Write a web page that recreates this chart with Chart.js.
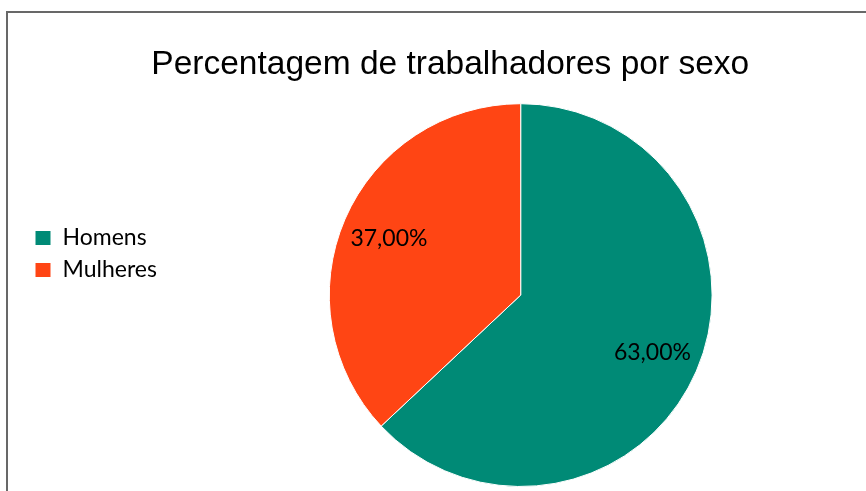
<!DOCTYPE html>
<html>
<head>
<meta charset="utf-8">
<script src="https://cdn.jsdelivr.net/npm/chart.js@4/dist/chart.umd.min.js"></script>
<style>
  html, body { margin: 0; padding: 0; overflow: hidden; background: #ffffff; width: 866px; height: 491px; }
  #frame { position: absolute; left: 6px; top: 11px; width: 900px; height: 600px;
           border-left: 2px solid #686868; border-top: 2px solid #686868; box-sizing: border-box; }
  #wrap { position: absolute; left: 0; top: 0; width: 880px; height: 491px; }
</style>
</head>
<body>
<div id="frame"></div>
<div id="wrap"><canvas id="c"></canvas></div>
<script>
const titleText = 'Percentagem de trabalhadores por sexo';
const categories = ['Homens', 'Mulheres'];
const percentValues = [63.00, 37.00];
const sliceColors = ['#008A76', '#FF4514'];

const dataLabelPlugin = {
  id: 'sliceLabels',
  afterDatasetsDraw(chart) {
    const ctx = chart.ctx;
    const meta = chart.getDatasetMeta(0);
    ctx.save();
    ctx.font = '23px Lato';
    ctx.fillStyle = '#000000';
    ctx.textAlign = 'center';
    ctx.textBaseline = 'middle';
    meta.data.forEach((arc, i) => {
      const p = arc.getProps(['x', 'y', 'startAngle', 'endAngle', 'outerRadius'], true);
      const mid = (p.startAngle + p.endAngle) / 2;
      const r = p.outerRadius * 0.75;
      const label = percentValues[i].toFixed(2).replace('.', ',') + '%';
      ctx.fillText(label, p.x + Math.cos(mid) * r, p.y + Math.sin(mid) * r);
    });
    ctx.restore();
  }
};

new Chart(document.getElementById('c'), {
  type: 'pie',
  data: {
    labels: categories,
    datasets: [{
      data: percentValues,
      backgroundColor: sliceColors,
      borderColor: '#ffffff',
      borderWidth: 1,
      hoverOffset: 0
    }]
  },
  options: {
    responsive: true,
    maintainAspectRatio: false,
    animation: false,
    events: [],
    layout: { padding: { left: 26, right: 5.5, top: 0, bottom: 4 } },
    plugins: {
      title: {
        display: true,
        text: titleText,
        color: '#000000',
        font: { family: "'Liberation Sans', Arial, sans-serif", size: 33.5, weight: 'normal', lineHeight: 1.2 },
        padding: { top: 45, bottom: 18 }
      },
      legend: {
        display: true,
        position: 'left',
        align: 'start',
        title: { display: true, text: '', font: { size: 12, lineHeight: 1 }, padding: { top: 205.5, bottom: 0 } },
        labels: {
          boxWidth: 16,
          boxHeight: 15,
          padding: 9,
          color: '#000000',
          font: { family: 'Lato', size: 23 }
        }
      },
      tooltip: { enabled: false }
    }
  },
  plugins: [dataLabelPlugin]
});
</script>
</body>
</html>
